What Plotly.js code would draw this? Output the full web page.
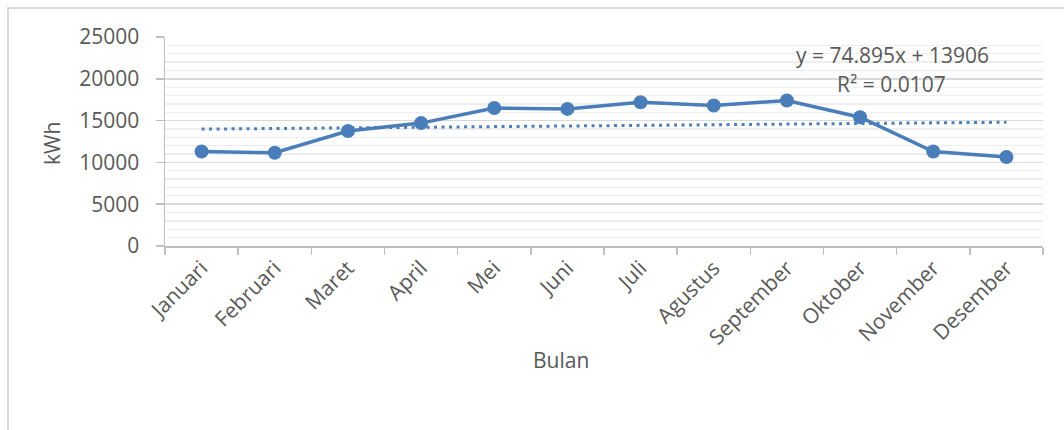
<!DOCTYPE html>
<html>
<head>
<meta charset="utf-8">
<script src="https://cdn.plot.ly/plotly-3.0.1.min.js"></script>
<style>
  html, body { margin: 0; padding: 0; background: #ffffff; }
  #wrap { position: relative; width: 1064px; height: 430px; overflow: hidden; }
  #frame { position: absolute; left: 7px; top: 7px; width: 1070px; height: 440px;
           border-left: 2px solid #d9d9d9; border-top: 2px solid #d9d9d9; }
  #chart { position: absolute; left: 0; top: 0; width: 1064px; height: 430px; }
</style>
</head>
<body>
<div id="wrap">
  <div id="frame"></div>
  <div id="chart"></div>
</div>
<script>
// ---- data ----
const months = ["Januari", "Februari", "Maret", "April", "Mei", "Juni", "Juli",
                "Agustus", "September", "Oktober", "November", "Desember"];
const kwh = [11300, 11150, 13750, 14700, 16500, 16400, 17200, 16800, 17400, 15400, 11300, 10650];
const trendSlope = 74.895;
const trendIntercept = 13906;
const trendR2 = 0.0107;
const yTickVals = [0, 5000, 10000, 15000, 20000, 25000];

// trendline values from the equation (x = 1..12)
const trend = months.map((m, i) => trendIntercept + trendSlope * (i + 1));

const blue = "#4a7ebb";
const textGray = "#595959";
const fontFam = "'Open Sans', 'Liberation Sans', sans-serif";
const fs = 21;

const traces = [
  {
    x: months, y: trend, type: "scatter", mode: "lines",
    line: { color: blue, width: 3, dash: "3px,4.5px" },
    hoverinfo: "skip", showlegend: false
  },
  {
    x: months, y: kwh, type: "scatter", mode: "lines+markers",
    line: { color: blue, width: 3.5 },
    marker: { color: blue, size: 14 },
    showlegend: false
  }
];

const layout = {
  width: 1064, height: 430,
  margin: { l: 165, r: 21, t: 37, b: 184 },
  paper_bgcolor: "rgba(0,0,0,0)",
  plot_bgcolor: "rgba(0,0,0,0)",
  font: { family: fontFam, color: textGray, size: fs },
  showlegend: false,
  xaxis: {
    type: "category",
    range: [-0.5, 11.5],
    tickangle: -45,
    tickson: "boundaries",
    ticks: "outside", ticklen: 7, tickcolor: "#bfbfbf", tickwidth: 1.5,
    showline: true, linecolor: "#bfbfbf", linewidth: 1.5,
    showgrid: false, zeroline: false,
    tickfont: { family: fontFam, size: fs, color: textGray },
    fixedrange: true
  },
  yaxis: {
    range: [0, 25000],
    tickvals: yTickVals,
    ticktext: yTickVals.map(String),
    ticks: "outside", ticklen: 8, tickcolor: "#bfbfbf", tickwidth: 1.5,
    showline: true, linecolor: "#bfbfbf", linewidth: 1.5,
    showgrid: true, gridcolor: "#d9d9d9", gridwidth: 1.5,
    zeroline: false,
    minor: { dtick: 1000, showgrid: true, gridcolor: "#eeeeee", gridwidth: 1.3, ticks: "" },
    tickfont: { family: fontFam, size: fs, color: textGray },
    ticklabelstandoff: 12,
    fixedrange: true
  },
  annotations: [
    { text: "kWh", xref: "paper", yref: "paper", x: (52 - 165) / 878, y: (246 - 143) / 209,
      xanchor: "center", yanchor: "middle", textangle: -90, showarrow: false,
      font: { family: fontFam, size: fs, color: textGray } },
    { text: "Bulan", xref: "paper", yref: "paper", x: (561 - 165) / 878, y: (246 - 360) / 209,
      xanchor: "center", yanchor: "middle", showarrow: false,
      font: { family: fontFam, size: fs, color: textGray } },
    { text: "y = " + trendSlope + "x + " + trendIntercept, xref: "paper", yref: "paper",
      x: (892 - 165) / 878, y: (246 - 55) / 209, xanchor: "center", yanchor: "middle",
      showarrow: false, font: { family: fontFam, size: fs, color: textGray } },
    { text: "R² = " + trendR2, xref: "paper", yref: "paper",
      x: (891 - 165) / 878, y: (246 - 84) / 209, xanchor: "center", yanchor: "middle",
      showarrow: false, font: { family: fontFam, size: fs, color: textGray } }
  ]
};

Plotly.newPlot("chart", traces, layout, { displayModeBar: false, staticPlot: true });
</script>
</body>
</html>
